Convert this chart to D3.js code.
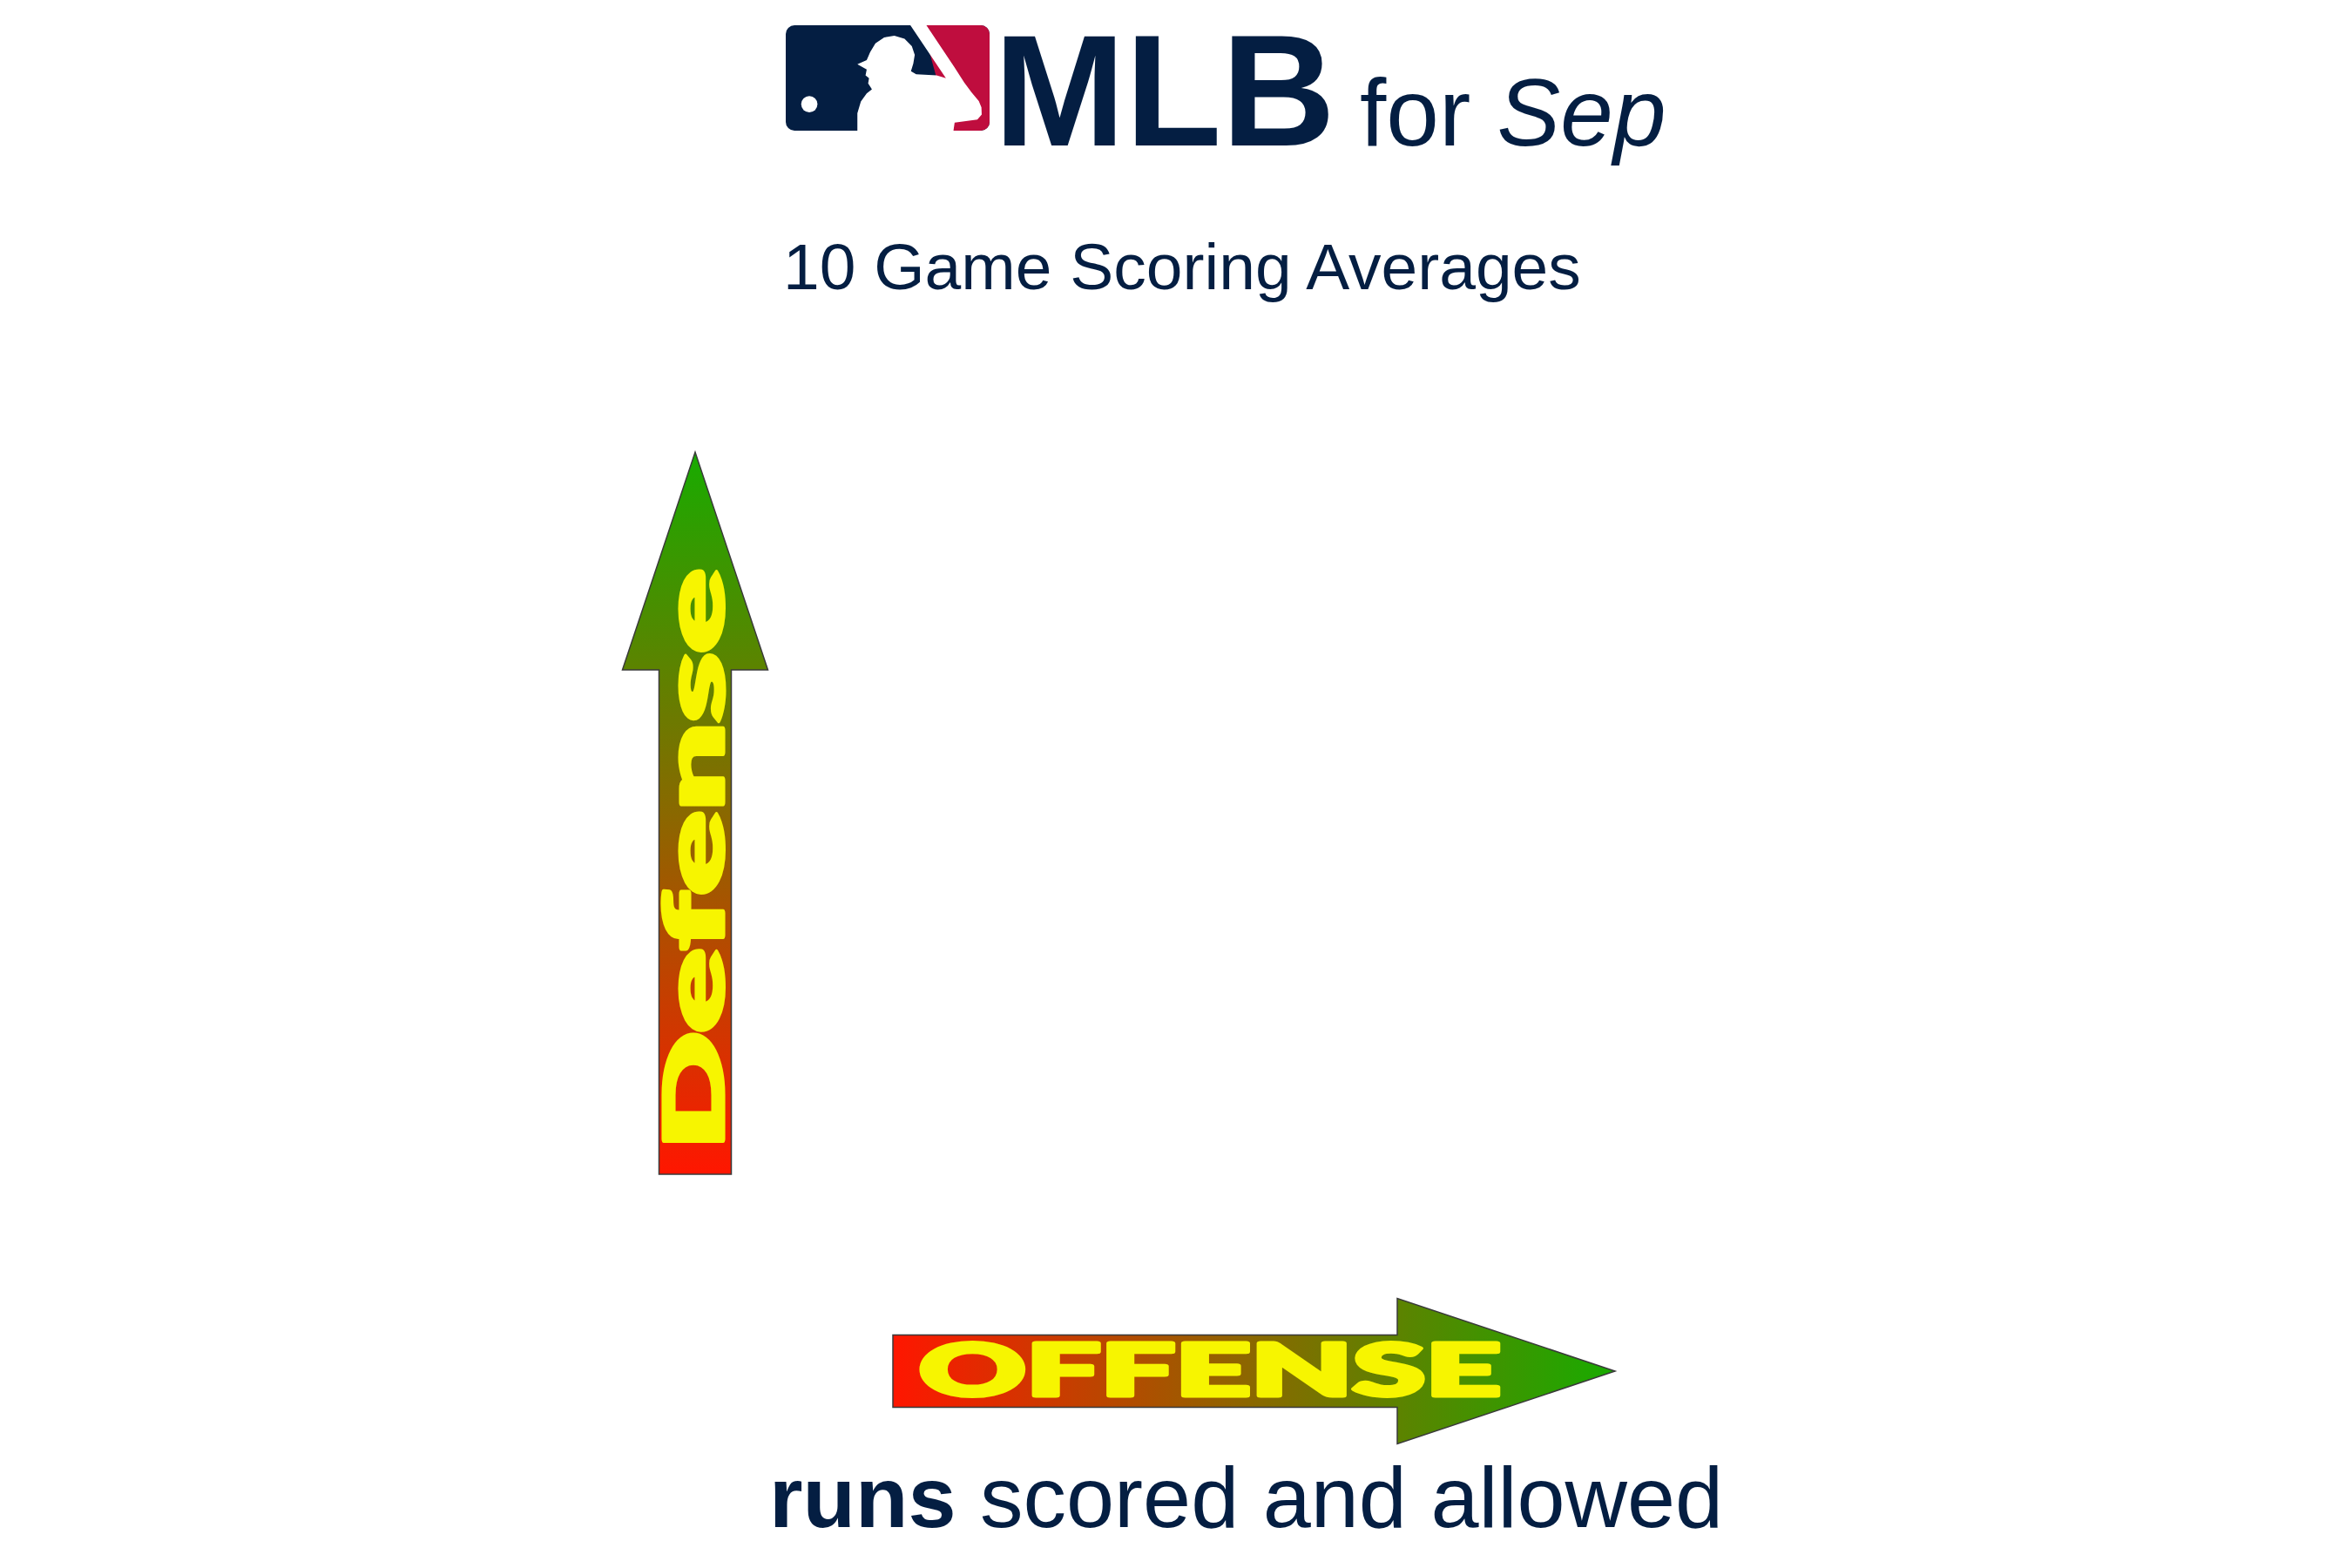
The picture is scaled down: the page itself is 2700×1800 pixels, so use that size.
<!DOCTYPE html>
<html>
<head>
<meta charset="utf-8">
<script src="https://cdn.jsdelivr.net/npm/d3@7"></script>
<style>
  body { margin: 0; background: #fff; }
  svg { display: block; }
</style>
</head>
<body>
<script>
// texts
var titleMain = "MLB";
var titleFor = "for ";
var titleMonth = "Sep";
var subtitle = "10 Game Scoring Averages";
var axisBold = "runs";
var axisRest = " scored and allowed";
var arrowLabels = ["OFFENSE", "Defense"];
var gradientColors = ["#ff1600", "#8a6800", "#18ab00"];

// logo outline in a 22..722 x 28..390 box
var logoRed = [[490, 28], [722, 28], [722, 390], [590, 390]];
var logoBatter = [[450, 28], [505, 28], [560, 110], [600, 170], [635, 225], [660, 258],
  [685, 288], [694, 310], [695, 335], [680, 352], [602, 362], [598, 390], [268, 390],
  [268, 330], [280, 290], [300, 262], [318, 248], [305, 228], [308, 210], [296, 200],
  [300, 180], [268, 162], [300, 148], [312, 120], [330, 90], [360, 70], [395, 64],
  [430, 74], [455, 100], [465, 130], [460, 160], [452, 186], [470, 196], [540, 200],
  [572, 210]];
var logoBall = [103, 299, 28];

var navy = "#041e42";
var red = "#bf0d3e";
var yellow = "#f7f500";

var width = 2700, height = 1800;

var svg = d3.select("body").append("svg")
    .attr("width", width)
    .attr("height", height);

var defs = svg.append("defs");
var grad = defs.append("linearGradient")
    .attr("id", "arrowGrad")
    .attr("x1", 0).attr("y1", 0).attr("x2", 1).attr("y2", 0);
grad.selectAll("stop")
    .data(gradientColors)
    .enter().append("stop")
    .attr("offset", function(d, i) { return i / (gradientColors.length - 1); })
    .attr("stop-color", function(d) { return d; });

// logo
var logoW = 234, logoH = 121;
var lx = d3.scaleLinear().domain([22, 722]).range([0, logoW]);
var ly = d3.scaleLinear().domain([28, 390]).range([0, logoH]);
var logo = svg.append("g").attr("transform", "translate(902,29)");
defs.append("clipPath").attr("id", "logoClip")
  .append("rect")
    .attr("width", logoW).attr("height", logoH).attr("rx", 10);
logo.append("rect")
    .attr("width", logoW).attr("height", logoH).attr("rx", 10)
    .attr("fill", navy);
var poly = d3.line().x(function(d) { return lx(d[0]); }).y(function(d) { return ly(d[1]); });
var lg = logo.append("g").attr("clip-path", "url(#logoClip)");
lg.append("path").attr("d", poly(logoRed) + "Z").attr("fill", red);
lg.append("path").attr("d", poly(logoBatter) + "Z").attr("fill", "#fff");
lg.append("circle")
    .attr("cx", lx(logoBall[0])).attr("cy", ly(logoBall[1]))
    .attr("r", lx(logoBall[0] + logoBall[2]) - lx(logoBall[0]))
    .attr("fill", "#fff");

// title
var title = svg.append("text")
    .attr("x", 1141).attr("y", 167)
    .attr("fill", navy)
    .style("font-family", "'Liberation Sans', Arial, sans-serif");
title.append("tspan").text(titleMain)
    .style("font-weight", "bold").style("font-size", "181px");
title.append("tspan").text(titleFor)
    .attr("dx", 28)
    .style("font-size", "109px");
title.append("tspan").text(titleMonth)
    .style("font-size", "109px").style("font-style", "italic");

svg.append("text")
    .attr("x", 899).attr("y", 332)
    .attr("fill", navy)
    .style("font-family", "'Liberation Sans', Arial, sans-serif")
    .style("font-size", "75px")
    .text(subtitle);

// arrows
var arrowLen = 829, shaftW = 83, headW = 167, headL = 250;
var arrowPts = [[0, -shaftW / 2], [arrowLen - headL, -shaftW / 2], [arrowLen - headL, -headW / 2],
  [arrowLen, 0], [arrowLen - headL, headW / 2], [arrowLen - headL, shaftW / 2], [0, shaftW / 2]];
var arrows = [
  { label: arrowLabels[0], tf: "translate(1025,1574)", tx: 30, ty: 28, len: 668, size: 82 },
  { label: arrowLabels[1], tf: "translate(798,1348) rotate(-90)", tx: 27, ty: 32, len: 668, size: 94 }
];
var ag = svg.selectAll(".arrow")
    .data(arrows)
    .enter().append("g")
    .attr("class", "arrow")
    .attr("transform", function(d) { return d.tf; });
ag.append("path")
    .attr("d", d3.line()(arrowPts) + "Z")
    .attr("fill", "url(#arrowGrad)")
    .attr("stroke", "#3a3a3a")
    .attr("stroke-width", 1.5);
ag.append("text")
    .attr("x", function(d) { return d.tx; })
    .attr("y", function(d) { return d.ty; })
    .attr("textLength", function(d) { return d.len; })
    .attr("lengthAdjust", "spacingAndGlyphs")
    .attr("fill", yellow)
    .attr("stroke", yellow)
    .attr("stroke-width", 5)
    .attr("stroke-linejoin", "round")
    .style("font-family", "Lato, Roboto, 'DejaVu Sans', sans-serif")
    .style("font-weight", 900)
    .style("font-size", function(d) { return d.size + "px"; })
    .text(function(d) { return d.label; });

// axis caption
var cap = svg.append("text")
    .attr("x", 883).attr("y", 1753)
    .attr("fill", navy)
    .style("font-family", "'Liberation Sans', Arial, sans-serif")
    .style("font-size", "99px");
cap.append("tspan").text(axisBold).style("font-weight", "bold");
cap.append("tspan").text(axisRest);
</script>
</body>
</html>
